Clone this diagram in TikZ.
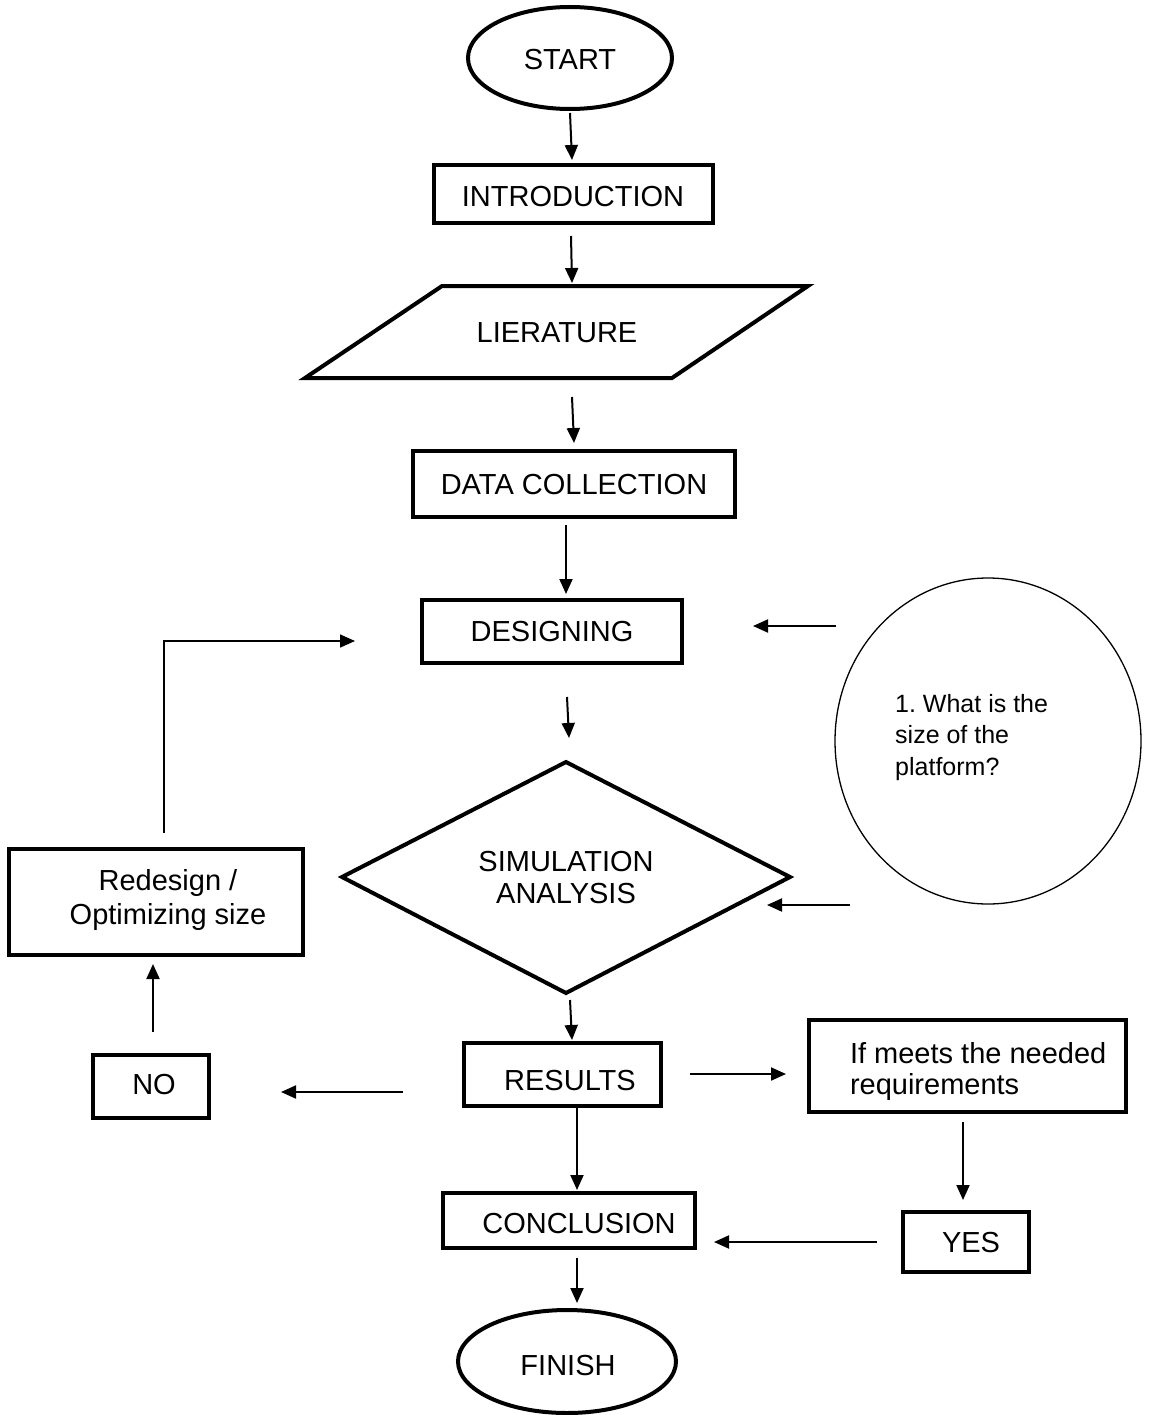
\documentclass[tikz,border=0pt]{standalone}
\usepackage{fontspec}
\setmainfont{Liberation Sans}
\usetikzlibrary{arrows.meta,shapes.geometric}
\frenchspacing
\begin{document}
\begin{tikzpicture}[x=1pt,y=-1pt,
  box/.style={draw, line width=4pt, rectangle, inner sep=0pt, outer sep=0pt},
  oval/.style={draw, line width=4pt, ellipse, inner sep=0pt, outer sep=0pt},
  lbl/.style={inner sep=0pt, outer sep=0pt, font=\fontsize{29}{34}\selectfont},
  arr/.style={line width=2pt, -{Triangle[length=15pt,width=13pt]}},
  looparr/.style={line width=1.5pt, -{Triangle[length=15pt,width=13pt]}}]

\fill[white] (0,0) rectangle (1148,1415);
\useasboundingbox (0,0) rectangle (1148,1415);

% shapes
\node[oval, minimum width=204, minimum height=102] (start) at (570,58) {};
\node[lbl] (startT) at (570,60) {START};

\node[box, minimum width=279, minimum height=58] (intro) at (573.5,194) {};
\node[lbl] (introT) at (573,197) {INTRODUCTION};

\draw[line width=4pt] (305,378) -- (442,286) -- (808,286) -- (672,378) -- cycle;
\coordinate (litT) at (572,286);
\coordinate (litB) at (572,378);
\node[lbl] (lit) at (557,333) {LIERATURE};

\node[box, minimum width=322, minimum height=66] (data) at (574,484) {};
\node[lbl] (dataT) at (574,485) {DATA COLLECTION};

\node[box, minimum width=260, minimum height=63] (design) at (552,631.5) {};
\node[lbl] (designT) at (552,632) {DESIGNING};

\draw[line width=4pt] (566,762) -- (790,877) -- (566,993) -- (342,877) -- cycle;
\coordinate (simT) at (566,762);
\coordinate (simB) at (566,993);
\coordinate (simR) at (790,877);
\node[lbl, align=center, anchor=north, font=\fontsize{29}{32.5}\selectfont] (sim) at (566,851) {SIMULATION\\ANALYSIS};

\node[draw, line width=1.3pt, ellipse, inner sep=0pt, outer sep=0pt, minimum width=306, minimum height=326] (q) at (988,741) {};
\node[inner sep=0pt, anchor=north west, align=left, font=\fontsize{25}{31.5}\selectfont] (qT) at (895,694) {1. What is the\\size of the\\platform?};
\coordinate (q1) at (836,626);
\coordinate (q2) at (850,905);

\node[box, minimum width=197, minimum height=63] (results) at (562.5,1074.5) {};
\node[lbl] (resultsT) at (570,1080.5) {RESULTS};

\node[box, minimum width=317, minimum height=92] (req) at (967.5,1066) {};
\node[lbl, anchor=north west, align=left, font=\fontsize{29}{31}\selectfont] (reqT) at (850,1042) {If meets the needed\\requirements};

\node[box, minimum width=126, minimum height=60] (yes) at (966,1242) {};
\node[lbl] (yesT) at (971,1243) {YES};

\node[box, minimum width=252, minimum height=55] (conc) at (569,1220.5) {};
\node[lbl] (concT) at (579,1223.5) {CONCLUSION};

\node[oval, minimum width=218, minimum height=103] (finish) at (567,1361.5) {};
\node[lbl] (finishT) at (568,1365) {FINISH};

\node[box, minimum width=294, minimum height=106] (redesign) at (156,902) {};
\node[lbl, align=center, anchor=north] (redesignT) at (168,869.5) {Redesign /\\Optimizing size};

\node[box, minimum width=116, minimum height=63] (no) at (151,1086.5) {};
\node[lbl] (noT) at (154,1085) {NO};

% connectors
\draw[arr] ([yshift=-4pt]start.south) -- ([xshift=-1.5pt,yshift=5pt]intro.north);
\draw[arr] ([xshift=-2.5pt,yshift=-13pt]intro.south) -- ([yshift=3pt]litT);
\draw[arr] ([yshift=-19pt]litB) -- ([yshift=8pt]data.north);
\draw[arr] ([xshift=-8pt,yshift=-8pt]data.south) -- ([xshift=14pt,yshift=6pt]design.north);
\draw[arr] (q1) -- ([xshift=71pt,yshift=5.5pt]design.east);
\draw[arr] ([xshift=15pt,yshift=-34pt]design.south) -- ([xshift=3pt,yshift=24pt]simT);
\draw[arr] (q2) -- ([xshift=-23pt,yshift=-28pt]simR);
\draw[arr] ([xshift=4pt,yshift=-7pt]simB) -- ([xshift=9.5pt,yshift=3pt]results.north);
\draw[arr] ([xshift=29pt,yshift=0.5pt]results.east) -- ([xshift=-23pt,yshift=-8pt]req.west);
\draw[arr] ([xshift=-4.5pt,yshift=-10pt]req.south) -- ([xshift=-3pt,yshift=12pt]yes.north);
\draw[arr] ([xshift=-26pt]yes.west) -- ([xshift=19pt,yshift=-21.5pt]conc.east);
\draw[arr] ([xshift=14.5pt]results.south) -- ([xshift=8pt,yshift=3pt]conc.north);
\draw[arr] ([xshift=8pt,yshift=-10pt]conc.south) -- ([xshift=10pt,yshift=7pt]finish.north);
\draw[arr] ([xshift=-61pt,yshift=-17.5pt]results.west) -- ([xshift=72pt,yshift=-5.5pt]no.east);
\draw[arr] ([xshift=2pt,yshift=23pt]no.north) -- ([xshift=-3pt,yshift=-9pt]redesign.south);
\draw[looparr] ([xshift=8pt,yshift=16pt]redesign.north) |- ([xshift=-67pt,yshift=-9.5pt]design.west);
\end{tikzpicture}
\end{document}
